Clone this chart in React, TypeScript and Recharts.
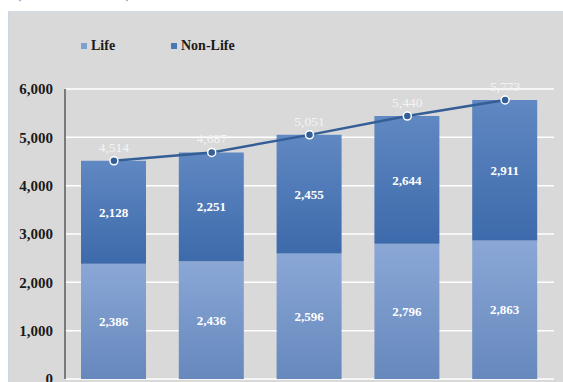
import {
  ComposedChart,
  Bar,
  Line,
  XAxis,
  YAxis,
  CartesianGrid,
  LabelList,
} from "recharts";

const YEARS = ["Y1", "Y2", "Y3", "Y4", "Y5"];
const LIFE = [2386, 2436, 2596, 2796, 2863];
const NON_LIFE = [2128, 2251, 2455, 2644, 2911];
const TOTAL = [4514, 4687, 5051, 5440, 5773];
const Y_TICKS = [0, 1000, 2000, 3000, 4000, 5000, 6000];

const data = YEARS.map((year, i) => ({
  year,
  life: LIFE[i],
  nonLife: NON_LIFE[i],
  total: TOTAL[i],
}));

const SERIF = "Liberation Serif, Times New Roman, DejaVu Serif, serif";
const fmt = (v: number) => v.toLocaleString("en-US");

// legend entries, placed by hand inside the grey panel
function LegendItem({ left, color, label }: { left: number; color: string; label: string }) {
  return (
    <div
      style={{
        position: "absolute",
        left,
        top: 26,
        display: "flex",
        alignItems: "center",
        fontFamily: SERIF,
        fontWeight: "bold",
        fontSize: 14,
        lineHeight: "16px",
        color: "#1a1a1a",
      }}
    >
      <span style={{ width: 6, height: 6, background: color, marginRight: 4 }} />
      <span>{label}</span>
    </div>
  );
}

export default function App() {
  return (
    <div style={{ position: "relative", width: 563, height: 382, overflow: "hidden", background: "#fff" }}>
      <style>{`body{margin:0;overflow:hidden}`}</style>
      <div
        style={{
          position: "absolute",
          left: 16,
          top: -16,
          fontFamily: SERIF,
          fontSize: 16,
          color: "#5a80c0",
          whiteSpace: "pre",
        }}
      >
        {"(                          )"}
      </div>
      <div
        style={{
          position: "absolute",
          left: 8,
          top: 11,
          width: 555,
          height: 371,
          background: "#d9d9d9",
          borderLeft: "1px solid #c9d6e6",
          borderTop: "1px solid #d5dde8",
          boxSizing: "border-box",
        }}
      >
        <LegendItem left={72} color="#7f9fd0" label="Life" />
        <LegendItem left={162} color="#4a77b6" label="Non-Life" />
        <ComposedChart
          width={555}
          height={371}
          data={data}
          margin={{ top: 78, right: 9, bottom: 3, left: 0 }}
          style={{ position: "absolute", left: -1, top: -1 }}
        >
          <defs>
            <linearGradient id="gLife" x1="0" y1="0" x2="0" y2="1">
              <stop offset="0%" stopColor="#8aa7d6" />
              <stop offset="100%" stopColor="#6688bd" />
            </linearGradient>
            <linearGradient id="gNon" x1="0" y1="0" x2="0" y2="1">
              <stop offset="0%" stopColor="#6088c2" />
              <stop offset="100%" stopColor="#3d6aab" />
            </linearGradient>
          </defs>
          <CartesianGrid vertical={false} stroke="#ffffff" strokeWidth={1.5} />
          <XAxis
            dataKey="year"
            tick={false}
            tickLine={false}
            height={0}
            axisLine={{ stroke: "#595959", strokeWidth: 1.5 }}
          />
          <YAxis
            width={57}
            domain={[0, 6000]}
            ticks={Y_TICKS}
            interval={0}
            tickFormatter={fmt}
            tickLine={false}
            tickMargin={6}
            axisLine={{ stroke: "#595959", strokeWidth: 1.5 }}
            tick={{ fontFamily: SERIF, fontWeight: "bold", fontSize: 15, fill: "#1a1a1a" }}
          />
          <Bar dataKey="life" stackId="a" fill="url(#gLife)" barSize={65} isAnimationActive={false}>
            <LabelList
              dataKey="life"
              position="center"
              formatter={(v: any) => fmt(Number(v))}
              style={{ fontFamily: SERIF, fontWeight: "bold", fontSize: 13, fill: "#ffffff" }}
            />
          </Bar>
          <Bar dataKey="nonLife" stackId="a" fill="url(#gNon)" barSize={65} isAnimationActive={false}>
            <LabelList
              dataKey="nonLife"
              position="center"
              formatter={(v: any) => fmt(Number(v))}
              style={{ fontFamily: SERIF, fontWeight: "bold", fontSize: 13, fill: "#ffffff" }}
            />
          </Bar>
          <Line
            dataKey="total"
            type="linear"
            stroke="#335e96"
            strokeWidth={2.5}
            dot={{ r: 4, fill: "#335e96", stroke: "#ffffff", strokeWidth: 1.5 }}
            activeDot={false}
            isAnimationActive={false}
          >
            <LabelList
              dataKey="total"
              position="top"
              offset={9}
              formatter={(v: any) => fmt(Number(v))}
              style={{ fontFamily: SERIF, fontSize: 13.5, fill: "#f4f4f4" }}
            />
          </Line>
        </ComposedChart>
      </div>
    </div>
  );
}
